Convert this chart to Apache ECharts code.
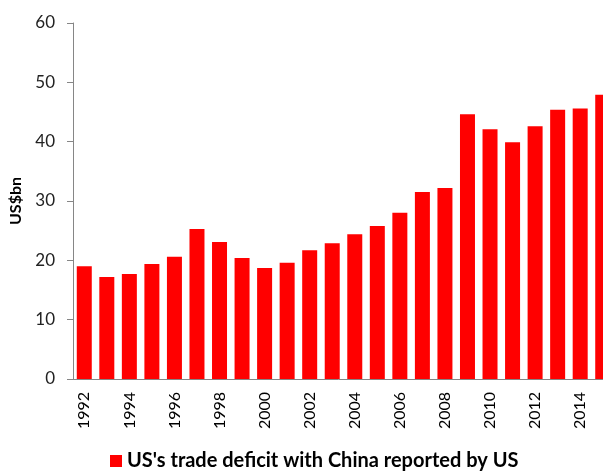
<!DOCTYPE html>
<html>
<head>
<meta charset="utf-8">
<script src="https://cdn.jsdelivr.net/npm/echarts@6/dist/echarts.min.js"></script>
<style>
  html, body { margin: 0; padding: 0; background: #fff; }
  #chart { width: 603px; height: 472px; }
</style>
</head>
<body>
<div id="chart"></div>
<script>
// data
var years = ['1992', '1993', '1994', '1995', '1996', '1997', '1998', '1999',
    '2000', '2001', '2002', '2003', '2004', '2005', '2006', '2007',
    '2008', '2009', '2010', '2011', '2012', '2013', '2014', '2015'];
var deficit = [19.0, 17.2, 17.7, 19.4, 20.6, 25.3, 23.1, 20.4,
    18.7, 19.6, 21.7, 22.9, 24.4, 25.8, 28.0, 31.5,
    32.2, 44.6, 42.1, 39.9, 42.6, 45.4, 45.6, 47.9];
var seriesName = "US's trade deficit with China reported by US";

var chart = echarts.init(document.getElementById('chart'));
var font = 'Lato, "Open Sans", sans-serif';

chart.setOption({
    animation: false,
    textStyle: {fontFamily: font},
    // plot runs past the right edge, last bar is cut like in the source
    grid: {left: 73, top: 23, width: 541, bottom: 93, containLabel: false, outerBoundsMode: 'none'},
    legend: {
        top: 451,
        left: 110,
        itemWidth: 12,
        itemHeight: 12,
        itemGap: 4,
        icon: 'rect',
        padding: 0,
        textStyle: {fontFamily: font, fontSize: 20, fontWeight: 'bold', color: '#000'},
        data: [seriesName]
    },
    xAxis: {
        type: 'category',
        data: years,
        axisLine: {lineStyle: {color: '#868686'}},
        axisTick: {interval: 1, length: 6, lineStyle: {color: '#868686'}},
        axisLabel: {interval: 1, rotate: 90, fontSize: 16, color: '#000', margin: 13}
    },
    yAxis: {
        type: 'value',
        min: 0,
        max: 60,
        interval: 10,
        name: 'US$bn',
        nameLocation: 'middle',
        nameGap: 49,
        nameRotate: 90,
        nameTextStyle: {fontSize: 16, fontWeight: 'bold', color: '#000'},
        splitLine: {show: false},
        axisLine: {show: true, lineStyle: {color: '#868686'}},
        axisTick: {show: true, length: 6, lineStyle: {color: '#868686'}},
        axisLabel: {fontSize: 17, color: '#222', margin: 18}
    },
    series: [{
        name: seriesName,
        type: 'bar',
        data: deficit,
        barWidth: 15,
        itemStyle: {color: '#ff0000'}
    }]
});
</script>
</body>
</html>
